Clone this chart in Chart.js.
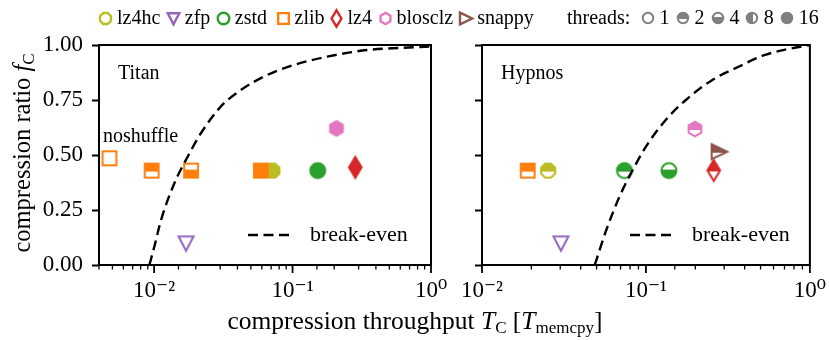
<!DOCTYPE html>
<html>
<head>
<meta charset="utf-8">
<script src="https://cdn.jsdelivr.net/npm/chart.js@4.4.1/dist/chart.umd.min.js"></script>
<style>
  html, body { margin:0; padding:0; background:#fff; }
  #wrap { position:relative; width:830px; height:340px; }
  #wrap canvas { position:absolute; left:0; top:0; }
</style>
</head>
<body>
<div id="wrap">
  <canvas id="titan" width="830" height="340"></canvas>
  <canvas id="hypnos" width="830" height="340"></canvas>
</div>
<script>
/* Compression ratio vs throughput, two machines - Chart.js */
const SERIF = '"Liberation Serif", "DejaVu Serif", serif';

// Series meta
const compressors = ['lz4hc', 'zfp', 'zstd', 'zlib', 'lz4', 'blosclz', 'snappy'];
const colors = ['#bcbd22', '#9467bd', '#2ca02c', '#ff7f0e', '#d62728', '#e377c2', '#8c564b'];
const shapes = ['octagon', 'triDown', 'circle', 'square', 'diamond', 'hexagon', 'triRight'];
const threadCounts = [1, 2, 4, 8, 16];
const threadFill = ['none', 'top', 'bottom', 'left', 'full'];

// Titan
const titanComp    = ['zlib', 'zlib', 'zlib', 'zlib', 'lz4hc', 'zstd', 'lz4', 'blosclz', 'zfp'];
const titanTput    = [0.00476, 0.0096, 0.0185, 0.059, 0.0715, 0.152, 0.284, 0.2075, 0.017];
const titanRatio   = [0.485, 0.429, 0.429, 0.429, 0.429, 0.429, 0.444, 0.621, 0.099];
const titanThreads = [1, 2, 4, 16, 16, 16, 16, 16, 1];

// Hypnos
const hypnosComp    = ['zlib', 'lz4hc', 'zstd', 'zstd', 'blosclz', 'snappy', 'lz4', 'zfp'];
const hypnosTput    = [0.019, 0.0253, 0.0739, 0.138, 0.199, 0.278, 0.259, 0.0303];
const hypnosRatio   = [0.429, 0.429, 0.429, 0.429, 0.618, 0.515, 0.43, 0.099];
const hypnosThreads = [2, 2, 2, 4, 2, 2, 2, 1];

// break-even curves
const titanEvenX  = [0.00925, 0.0101, 0.01123, 0.0140, 0.01747, 0.0218, 0.0303, 0.0423, 0.0658, 0.102, 0.178, 0.344, 0.6, 1.0];
const titanEvenY  = [0, 0.09, 0.2045, 0.371, 0.492, 0.599, 0.72, 0.795, 0.864, 0.909, 0.947, 0.977, 0.987, 0.993];
const hypnosEvenX = [0.0487, 0.0573, 0.0689, 0.083, 0.1, 0.132, 0.175, 0.254, 0.367, 0.533, 0.774, 1.0];
const hypnosEvenY = [0, 0.159, 0.31, 0.432, 0.538, 0.659, 0.75, 0.841, 0.901, 0.955, 0.985, 1.0];

// Axis ticks
const yTicks = [0, 0.25, 0.5, 0.75, 1.0];
const xTickExp = [-2, -1, 0];
const xTickText = ['10\u207B\u00B2', '10\u207B\u00B9', '10\u2070'];

// Marker sprites (matplotlib-like half fills)
const markerCache = {};
function shapePath(g, shape, r){
  g.beginPath();
  if(shape === 'circle'){ g.arc(0, 0, r, 0, Math.PI*2); }
  else if(shape === 'square'){ const s = r*0.92; g.rect(-s, -s, 2*s, 2*s); }
  else if(shape === 'octagon' || shape === 'hexagon'){
    const n = shape === 'octagon' ? 8 : 6, a0 = shape === 'octagon' ? Math.PI/8 : -Math.PI/2;
    const rr = shape === 'octagon' ? r*1.02 : r*0.98;
    for(let k=0;k<n;k++){ const a = a0 + k*2*Math.PI/n; const px = rr*Math.cos(a), py = rr*Math.sin(a); k ? g.lineTo(px,py) : g.moveTo(px,py); }
  }
  else if(shape === 'triDown'){ g.moveTo(-r, -r*0.9); g.lineTo(r, -r*0.9); g.lineTo(0, r); }
  else if(shape === 'triRight'){ g.moveTo(-r*0.95, -r); g.lineTo(r*1.15, 0); g.lineTo(-r*0.95, r); }
  else if(shape === 'diamond'){ g.moveTo(0, -r*1.4); g.lineTo(r*0.85, 0); g.lineTo(0, r*1.4); g.lineTo(-r*0.85, 0); }
  g.closePath();
}
function marker(shape, color, fill, size, lw = 2){
  const key = [shape, color, fill, size, lw].join('|');
  if(markerCache[key]) return markerCache[key];
  const n = Math.ceil(size*1.6) + 4;
  const c = document.createElement('canvas'); c.width = n; c.height = n;
  const g = c.getContext('2d');
  g.translate(n/2, n/2);
  const r = size/2 - lw/2;
  shapePath(g, shape, r); g.fillStyle = '#fff'; g.fill();
  if(fill !== 'none'){
    g.save(); shapePath(g, shape, r); g.clip();
    g.fillStyle = color;
    if(fill === 'full') g.fillRect(-n, -n, 2*n, 2*n);
    else if(fill === 'top') g.fillRect(-n, -n, 2*n, n);
    else if(fill === 'bottom') g.fillRect(-n, 0, 2*n, n);
    else if(fill === 'left') g.fillRect(-n, -n, n, 2*n);
    if(fill !== 'full'){
      g.strokeStyle = color; g.lineWidth = lw; g.beginPath();
      if(fill === 'left'){ g.moveTo(0, -n); g.lineTo(0, n); } else { g.moveTo(-n, 0); g.lineTo(n, 0); }
      g.stroke();
    }
    g.restore();
  }
  shapePath(g, shape, r); g.strokeStyle = color; g.lineWidth = lw; g.lineJoin = 'miter'; g.stroke();
  markerCache[key] = c;
  return c;
}

function buildDatasets(comp, tput, ratio, threads, evenX, evenY){
  const sets = compressors.map((name, i) => {
    const idx = comp.map((c, j) => c === name ? j : -1).filter(j => j >= 0);
    return {
      type: 'scatter', label: name, order: 20 - i,
      data: idx.map(j => ({x: tput[j], y: ratio[j]})),
      pointStyle: idx.map(j => marker(shapes[i], colors[i], threadFill[threadCounts.indexOf(threads[j])], 17)),
      pointRadius: 8,
    };
  });
  sets.push({
    type: 'line', label: 'break-even', order: -1,
    data: evenX.map((x, i) => ({x, y: evenY[i]})),
    borderColor: '#000', borderWidth: 2.4, borderDash: [10, 5.5],
    pointRadius: 0, fill: false, cubicInterpolationMode: 'monotone',
  });
  return sets;
}

// drawing helpers
function richText(ctx, parts, cx, baseY){
  const w = parts.reduce((a, p) => { ctx.font = p.font; return a + ctx.measureText(p.t).width; }, 0);
  let x = cx - w/2;
  parts.forEach(p => { ctx.font = p.font; ctx.fillText(p.t, x, baseY + (p.dy || 0)); x += ctx.measureText(p.t).width; });
}

const framePlugin = {
  id: 'frame',
  afterDraw(chart, args, opts){
    const {ctx, chartArea: a} = chart;
    const xs = chart.scales.x;
    ctx.save();
    ctx.strokeStyle = '#000';
    // x ticks, major & minor
    xs.ticks.forEach(t => {
      const px = xs.getPixelForValue(t.value);
      const l = Math.log10(t.value), major = Math.abs(l - Math.round(l)) < 1e-6;
      ctx.lineWidth = major ? 1.8 : 1.3;
      ctx.beginPath(); ctx.moveTo(px, a.bottom); ctx.lineTo(px, a.bottom + (major ? 8 : 4.5)); ctx.stroke();
    });
    ctx.lineWidth = 2;
    ctx.strokeRect(a.left, a.top, a.right - a.left, a.bottom - a.top);
    // panel annotations
    ctx.fillStyle = '#000'; ctx.textBaseline = 'middle'; ctx.textAlign = 'left';
    ctx.font = `20px ${SERIF}`;
    ctx.fillText(opts.title, a.left + 19, 74);
    if(opts.note) ctx.fillText(opts.note, a.left + 4, 137);
    // break-even legend
    const lx = opts.legendX, ly = 235;
    ctx.setLineDash([10, 5.5]); ctx.lineWidth = 2.4;
    ctx.beginPath(); ctx.moveTo(lx, ly); ctx.lineTo(lx + 42, ly); ctx.stroke();
    ctx.setLineDash([]);
    ctx.font = `22px ${SERIF}`;
    ctx.fillText('break-even', lx + 62, ly);
    ctx.restore();
  }
};

const figurePlugin = {
  id: 'figure',
  afterDraw(chart){
    const {ctx} = chart;
    ctx.save();
    ctx.fillStyle = '#000'; ctx.textBaseline = 'middle'; ctx.textAlign = 'left';
    // top legend
    ctx.font = `20px ${SERIF}`;
    const mx = [105.5, 173.3, 223.3, 283, 336, 385, 465.7];
    compressors.forEach((name, i) => {
      const m = marker(shapes[i], colors[i], 'none', 14, 2.4);
      ctx.drawImage(m, Math.round(mx[i] - m.width/2), Math.round(18 - m.height/2));
      ctx.fillText(name, mx[i] + 11.5, 19);
    });
    ctx.fillText('threads:', 567, 19);
    const tx = [647.5, 682.5, 717.5, 751.7, 786.7];
    threadCounts.forEach((t, i) => {
      const m = marker('circle', '#808080', threadFill[i], 12.5, 2);
      ctx.drawImage(m, Math.round(tx[i] - m.width/2), Math.round(18 - m.height/2));
      ctx.fillText(String(t), tx[i] + 12, 19);
    });
    // axis titles
    ctx.textBaseline = 'alphabetic';
    const big = `25.5px ${SERIF}`, ital = `italic 25.5px ${SERIF}`, sub = `17px ${SERIF}`;
    richText(ctx, [
      {t: 'compression throughput ', font: big},
      {t: 'T', font: ital}, {t: 'C', font: sub, dy: 4},
      {t: ' [', font: big}, {t: 'T', font: ital}, {t: 'memcpy', font: sub, dy: 4}, {t: ']', font: big},
    ], 415, 329);
    const ybig = `24.5px ${SERIF}`, yital = `italic 24.5px ${SERIF}`;
    ctx.translate(30, 153); ctx.rotate(-Math.PI/2);
    richText(ctx, [
      {t: 'compression ratio ', font: ybig}, {t: 'f', font: yital}, {t: 'C', font: sub, dy: 4},
    ], 0, 0);
    ctx.restore();
  }
};

function makeChart(id, datasets, xmin, padding, yWidth, showYLabels, opts, extraPlugins){
  return new Chart(document.getElementById(id), {
    type: 'scatter',
    data: { datasets },
    options: {
      responsive: false, animation: false, events: [],
      layout: { padding },
      plugins: { legend: {display: false}, tooltip: {enabled: false}, frame: opts },
      scales: {
        x: {
          type: 'logarithmic', min: xmin, max: 1,
          grid: { display: false, drawTicks: true, tickLength: 8 },
          border: { display: false },
          ticks: {
            autoSkip: false, maxRotation: 0, padding: 4, color: '#000',
            font: { family: SERIF, size: 23 },
            callback: (v) => { const k = xTickExp.findIndex(e => Math.abs(Math.log10(v) - e) < 1e-6); return k >= 0 ? xTickText[k] : ''; },
          },
          afterFit: (s) => { s.height = 75; },
        },
        y: {
          min: 0, max: 1,
          afterBuildTicks: (s) => { s.ticks = yTicks.map(v => ({value: v})); },
          grid: { drawOnChartArea: false, drawTicks: true, tickLength: 7, tickWidth: 2, tickColor: '#000' },
          border: { display: false },
          ticks: {
            display: showYLabels, padding: 9, color: '#000',
            font: { family: SERIF, size: 23 },
            callback: (v) => v.toFixed(2),
          },
          afterFit: (s) => { s.width = yWidth; },
        },
      },
    },
    plugins: [framePlugin, ...extraPlugins],
  });
}

Chart.defaults.font.family = SERIF;

makeChart('titan', buildDatasets(titanComp, titanTput, titanRatio, titanThreads, titanEvenX, titanEvenY),
  0.004, {left: 0, right: 399, top: 45, bottom: 0}, 99, true,
  {title: 'Titan', note: 'noshuffle', legendX: 248}, [figurePlugin]);

makeChart('hypnos', buildDatasets(hypnosComp, hypnosTput, hypnosRatio, hypnosThreads, hypnosEvenX, hypnosEvenY),
  0.01, {left: 470, right: 18, top: 45, bottom: 0}, 12, false,
  {title: 'Hypnos', legendX: 630}, []);
</script>
</body>
</html>
